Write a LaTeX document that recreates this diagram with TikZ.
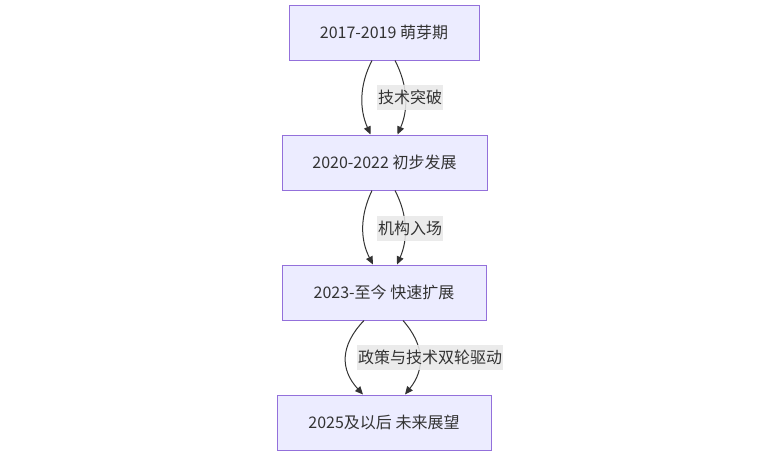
\documentclass[tikz,border=0pt]{standalone}
\usepackage{fontspec}
\setmainfont{Noto Sans CJK SC}
\usetikzlibrary{arrows.meta}
\definecolor{nodefill}{HTML}{ECECFF}
\definecolor{nodeline}{HTML}{9370DB}
\definecolor{edgecol}{HTML}{333333}
\definecolor{lblfill}{HTML}{E8E8E8}
\begin{document}
\begin{tikzpicture}[x=1pt,y=1pt,
  stage/.style={draw=nodeline,fill=nodefill,line width=1pt,minimum height=55pt,inner sep=0pt,text=edgecol,font=\fontsize{16}{19}\selectfont},
  edge/.style={draw=edgecol,line width=1pt,-{Triangle[length=8pt,width=7pt]}},
  lbl/.style={fill=lblfill,fill opacity=0.85,text opacity=1,text=edgecol,inner xsep=1pt,inner ysep=0pt,minimum height=25pt,font=\fontsize{16}{19}\selectfont}]
\useasboundingbox (0,0) rectangle (768,-463);
\node[stage,minimum width=190pt] (n1) at (384,-32.5) {2017-2019 萌芽期};
\node[stage,minimum width=205pt] (n2) at (384.5,-162.5) {2020-2022 初步发展};
\node[stage,minimum width=204pt] (n3) at (384,-292.5) {2023-至今 快速扩展};
\node[stage,minimum width=214pt] (n4) at (384,-422.5) {2025及以后 未来展望};
\draw[edge] ([xshift=-12pt]n1.south) .. controls +(-13,-25) and +(-11,25) .. ([xshift=-14pt]n2.north);
\draw[edge] ([xshift=11pt]n1.south) .. controls +(13,-25) and +(11,25) .. ([xshift=13pt]n2.north);
\draw[edge] ([xshift=-12.5pt]n2.south) .. controls +(-12,-25) and +(-13,25) .. ([xshift=-11pt]n3.north);
\draw[edge] ([xshift=10.5pt]n2.south) .. controls +(13,-25) and +(11,25) .. ([xshift=13pt]n3.north);
\draw[edge] ([xshift=-20pt]n3.south) .. controls +(-24,-25) and +(-23,25) .. ([xshift=-21pt]n4.north);
\draw[edge] ([xshift=19pt]n3.south) .. controls +(22,-25) and +(20,25) .. ([xshift=21pt]n4.north);
\node[lbl] (l1) at (410,-97) {技术突破};
\node[lbl] (l2) at (410,-228) {机构入场};
\node[lbl] (l3) at (430,-357) {政策与技术双轮驱动};
\end{tikzpicture}
\end{document}
